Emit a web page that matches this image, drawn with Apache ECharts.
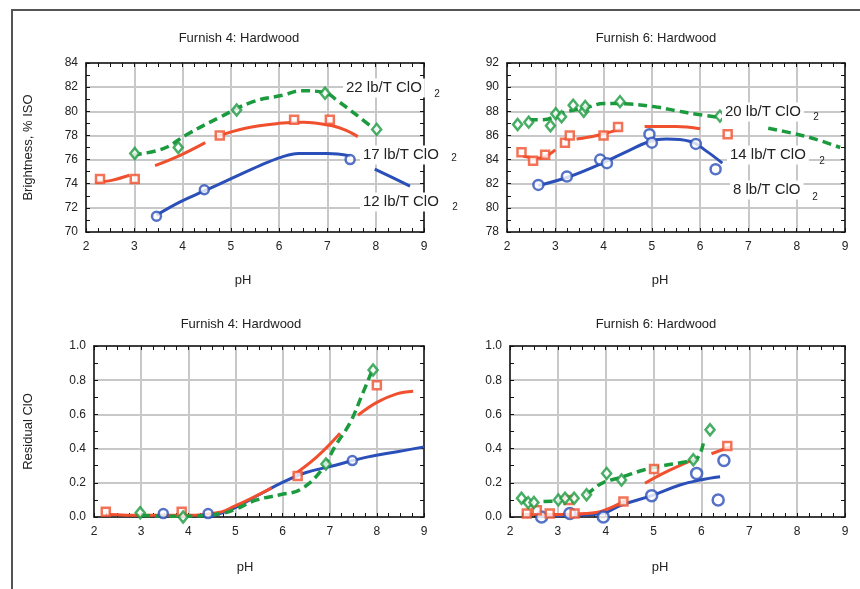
<!DOCTYPE html>
<html>
<head>
<meta charset="utf-8">
<script src="https://cdn.jsdelivr.net/npm/echarts@6/dist/echarts.min.js"></script>
<style>
html, body { margin: 0; background: #fff; }
#chart { width: 860px; height: 589px; }
</style>
</head>
<body>
<div id="chart"></div>
<script>
// colours of the three doses
var BLUE = '#2a4fb8', RED = '#f0502e', GREEN = '#1c9a3e';

// ---- Furnish 4 brightness (top left) ----
var tlBlueCircles = [[3.46,71.3],[4.45,73.5],[7.47,76.0]];
var tlBlueLine = [[3.46,71.4],[3.95,72.5],[4.45,73.4],[5.05,74.5],[5.6,75.5],[6.05,76.2],[6.4,76.5],[7.0,76.5],[7.47,76.3]];
var tlBlueLine2 = [[7.98,75.2],[8.35,74.5],[8.71,73.8]];
var tlRedSquares = [[2.29,74.4],[3.01,74.4],[4.77,78.0],[6.31,79.3],[7.05,79.3]];
var tlRedLine1 = [[2.2,74.1],[2.55,74.3],[2.9,74.7]];
var tlRedLine2 = [[3.43,75.5],[3.95,76.35],[4.47,77.4]];
var tlRedLine3 = [[4.7,77.9],[5.3,78.6],[6.0,79.0],[6.5,79.1],[7.1,78.8],[7.4,78.4],[7.63,77.9]];
var tlGreenDiamonds = [[3.01,76.5],[3.91,77.0],[5.12,80.1],[6.95,81.5],[8.02,78.5]];
var tlGreenLine = [[2.97,76.4],[3.6,76.9],[4.1,78.1],[4.77,79.5],[5.46,80.8],[6.1,81.35],[6.45,81.7],[6.95,81.55],[7.2,80.9],[7.6,79.7],[7.95,78.6]];

// ---- Furnish 6 brightness (top right) ----
var trBlueCircles = [[2.65,81.9],[3.24,82.6],[3.93,84.0],[4.07,83.7],[4.95,86.1],[5.0,85.4],[5.91,85.3],[6.32,83.2]];
var trBlueLine = [[2.65,81.85],[3.3,82.6],[4.0,83.75],[4.5,84.7],[4.95,85.5],[5.3,85.7],[5.8,85.5],[6.13,84.7],[6.46,83.7]];
var trRedSquares = [[2.30,84.6],[2.54,83.9],[2.79,84.4],[3.2,85.4],[3.3,86.0],[4.0,86.0],[4.3,86.7],[6.57,86.1]];
var trRedLine1 = [[2.33,84.3],[2.65,84.1],[3.0,84.8]];
var trRedLine2 = [[3.44,85.7],[3.86,86.0],[4.34,86.5]];
var trRedLine3 = [[4.85,86.75],[5.5,86.75],[6.0,86.55]];
var trGreenDiamonds = [[2.22,86.9],[2.45,87.1],[2.9,86.8],[3.01,87.8],[3.13,87.55],[3.37,88.5],[3.59,88.0],[3.62,88.4],[4.34,88.8],[6.41,87.6]];
var trGreenLine1 = [[2.45,87.3],[2.75,87.3],[3.18,87.9],[3.65,88.3],[4.0,88.65],[4.55,88.6],[5.1,88.35],[5.5,88.05],[5.93,87.75],[6.4,87.5]];
var trGreenLine2 = [[7.41,86.6],[7.89,86.2],[8.34,85.75],[8.9,85.0]];

// ---- Furnish 4 residual (bottom left) ----
var blBlueCircles = [[3.47,0.02],[4.42,0.02],[7.48,0.33]];
var blBlueLine = [[4.45,0.0],[4.96,0.05],[5.5,0.13],[6.02,0.205],[6.5,0.26],[7.08,0.30],[7.79,0.35],[8.4,0.38],[9.0,0.41]];
var blRedSquares = [[2.25,0.03],[3.86,0.03],[6.32,0.24],[8.0,0.77]];
var blRedLine1 = [[2.3,0.015],[3.0,0.01],[4.0,0.01],[4.7,0.03],[4.96,0.06],[5.38,0.115],[5.77,0.17]];
var blRedLine2 = [[6.23,0.245],[6.72,0.35],[7.22,0.49]];
var blRedLine3 = [[7.6,0.595],[8.0,0.67],[8.42,0.72],[8.77,0.735]];
var blGreenDiamonds = [[2.98,0.025],[3.89,0.0],[6.92,0.31],[7.92,0.86]];
var blGreenLine = [[3.0,0.01],[3.5,0.005],[4.0,0.005],[4.7,0.02],[5.0,0.045],[5.45,0.10],[5.95,0.13],[6.37,0.16],[6.8,0.265],[7.15,0.43],[7.43,0.55],[7.68,0.71],[7.89,0.85]];

// ---- Furnish 6 residual (bottom right) ----
var brBlueCircles = [[2.66,0.0],[3.25,0.02],[3.95,0.0],[4.96,0.125],[5.9,0.255],[6.35,0.10],[6.47,0.33]];
var brBlueLine = [[2.6,0.005],[3.3,0.01],[3.92,0.02],[4.33,0.07],[4.96,0.125],[5.55,0.187],[5.97,0.216],[6.39,0.235]];
var brRedSquares = [[2.35,0.02],[2.56,0.04],[2.83,0.02],[3.22,0.10],[3.35,0.02],[4.37,0.09],[5.01,0.28],[6.54,0.415]];
var brRedLine1 = [[2.3,0.015],[3.0,0.015],[3.6,0.02],[3.95,0.037],[4.44,0.10]];
var brRedLine2 = [[4.82,0.197],[5.2,0.255],[5.83,0.335]];
var brRedLine3 = [[6.21,0.37],[6.6,0.41]];
var brGreenDiamonds = [[2.24,0.11],[2.38,0.084],[2.5,0.085],[3.01,0.10],[3.15,0.11],[3.34,0.11],[3.6,0.13],[4.02,0.255],[4.33,0.216],[5.83,0.335],[6.18,0.51]];
var brGreenLine1 = [[2.7,0.09],[3.05,0.095]];
var brGreenLine2 = [[3.6,0.13],[3.73,0.16],[3.94,0.2],[4.35,0.235],[4.79,0.275],[5.2,0.30],[5.62,0.32],[5.9,0.34],[6.04,0.43]];

var phRange = [2, 9];
var brightTL = [70, 84];
var brightTR = [78, 92];
var residRange = [0, 1];

var FONT = "'Liberation Sans', Arial, sans-serif";

var grids = [
  {left: 86, top: 63, width: 338, height: 169},
  {left: 507, top: 63, width: 338, height: 169},
  {left: 94, top: 346, width: 330, height: 171},
  {left: 510, top: 346, width: 335, height: 171}
];

var xAxes = [], yAxes = [];
function addAxes(g, yr, yStep, yFmt, yName, nameGap) {
  var line = {show: true, onZero: false, lineStyle: {color: '#111', width: 1.5}};
  var tick = {show: true, inside: true, length: 4, lineStyle: {color: '#111', width: 1}};
  [false, true].forEach(function (mirror) {
    xAxes.push({
      gridIndex: g, type: 'value', min: phRange[0], max: phRange[1], interval: 1,
      position: mirror ? 'top' : 'bottom',
      axisLine: line, axisTick: tick,
      minorTick: {show: true, splitNumber: 4, length: 4, lineStyle: {color: '#111'}},
      axisLabel: {show: !mirror, color: '#222', fontSize: 12, fontFamily: FONT, margin: 9},
      splitLine: {show: !mirror, lineStyle: {color: '#c8c8c8', width: 2}}
    });
    yAxes.push({
      gridIndex: g, type: 'value', min: yr[0], max: yr[1], interval: yStep,
      position: mirror ? 'right' : 'left',
      name: mirror ? '' : yName, nameLocation: 'middle', nameGap: nameGap,
      nameTextStyle: {color: '#222', fontSize: 13, fontFamily: FONT},
      axisLine: line, axisTick: tick,
      minorTick: {show: true, splitNumber: 2, length: 4, lineStyle: {color: '#111'}},
      axisLabel: {show: !mirror, color: '#222', fontSize: 12, fontFamily: FONT, margin: 8, formatter: yFmt},
      splitLine: {show: !mirror, lineStyle: {color: '#c8c8c8', width: 2}}
    });
  });
}
addAxes(0, brightTL, 2, null, 'Brightness, % ISO', 51);
addAxes(1, brightTR, 2, null, '', 40);
addAxes(2, residRange, 0.2, function (v) { return v.toFixed(1); }, 'Residual ClO', 59);
addAxes(3, residRange, 0.2, function (v) { return v.toFixed(1); }, '', 40);

var series = [];
function line(g, pts, color, dashed) {
  series.push({
    type: 'line', xAxisIndex: g * 2, yAxisIndex: g * 2, data: pts,
    smooth: 0.4, symbol: 'none', silent: true, z: 3,
    lineStyle: {color: color, width: dashed ? 3.5 : 3, type: dashed ? [9, 5] : 'solid'}
  });
}
function marks(g, pts, color, symbol, size) {
  series.push({
    type: 'scatter', xAxisIndex: g * 2, yAxisIndex: g * 2, data: pts,
    symbol: symbol, symbolSize: size, silent: true, z: 4,
    itemStyle: {color: '#fff', borderColor: color, borderWidth: 2.5}
  });
}

line(0, tlBlueLine, BLUE); line(0, tlBlueLine2, BLUE);
line(0, tlRedLine1, RED); line(0, tlRedLine2, RED); line(0, tlRedLine3, RED);
line(0, tlGreenLine, GREEN, true);
marks(0, tlBlueCircles, BLUE, 'circle', 9);
marks(0, tlRedSquares, RED, 'rect', 8);
marks(0, tlGreenDiamonds, GREEN, 'diamond', [9, 11]);

line(1, trBlueLine, BLUE);
line(1, trRedLine1, RED); line(1, trRedLine2, RED); line(1, trRedLine3, RED);
line(1, trGreenLine1, GREEN, true); line(1, trGreenLine2, GREEN, true);
marks(1, trBlueCircles, BLUE, 'circle', 10);
marks(1, trRedSquares, RED, 'rect', 8);
marks(1, trGreenDiamonds, GREEN, 'diamond', [9, 11]);

line(2, blBlueLine, BLUE);
line(2, blRedLine1, RED); line(2, blRedLine2, RED); line(2, blRedLine3, RED);
line(2, blGreenLine, GREEN, true);
marks(2, blBlueCircles, BLUE, 'circle', 9);
marks(2, blRedSquares, RED, 'rect', 8);
marks(2, blGreenDiamonds, GREEN, 'diamond', [9, 11]);

line(3, brBlueLine, BLUE);
line(3, brRedLine1, RED); line(3, brRedLine2, RED); line(3, brRedLine3, RED);
line(3, brGreenLine1, GREEN, true); line(3, brGreenLine2, GREEN, true);
marks(3, brBlueCircles, BLUE, 'circle', 11);
marks(3, brRedSquares, RED, 'rect', 8);
marks(3, brGreenDiamonds, GREEN, 'diamond', [9, 11]);

function txt(x, y, s, size, align, bg) {
  var st = {text: s, x: x, y: y, font: size + 'px ' + FONT, fill: '#222',
    align: align || 'center', verticalAlign: 'middle',
    textAlign: align || 'center', textVerticalAlign: 'middle'};
  if (bg) { st.backgroundColor = '#fff'; st.padding = [2, 3]; }
  return {type: 'text', z: 10, style: st};
}

var graphics = [
  {type: 'rect', z: -1, shape: {x: 12, y: 10, width: 900, height: 700},
    style: {fill: 'none', stroke: '#555', lineWidth: 2}},
  txt(239, 38, 'Furnish 4: Hardwood', 13),
  txt(656, 38, 'Furnish 6: Hardwood', 13),
  txt(241, 324, 'Furnish 4: Hardwood', 13),
  txt(656, 324, 'Furnish 6: Hardwood', 13),
  txt(243, 280, 'pH', 13), txt(660, 280, 'pH', 13),
  txt(245, 567, 'pH', 13), txt(660, 567, 'pH', 13),
  // curve labels, top left
  txt(343, 88, '22 lb/T ClO', 15, 'left', true), txt(437, 94, '2', 10),
  txt(360, 155, '17 lb/T ClO', 15, 'left', true), txt(454, 158, '2', 10),
  txt(360, 202, '12 lb/T ClO', 15, 'left', true), txt(455, 207, '2', 10),
  // curve labels, top right
  txt(722, 112, '20 lb/T ClO', 15, 'left', true), txt(816, 117, '2', 10),
  txt(727, 155, '14 lb/T ClO', 15, 'left', true), txt(822, 161, '2', 10),
  txt(730, 190, '8 lb/T ClO', 15, 'left', true), txt(815, 197, '2', 10)
];

var myChart = echarts.init(document.getElementById('chart'));
myChart.setOption({
  animation: false,
  backgroundColor: '#fff',
  grid: grids,
  xAxis: xAxes,
  yAxis: yAxes,
  series: series,
  graphic: graphics
});
</script>
</body>
</html>
